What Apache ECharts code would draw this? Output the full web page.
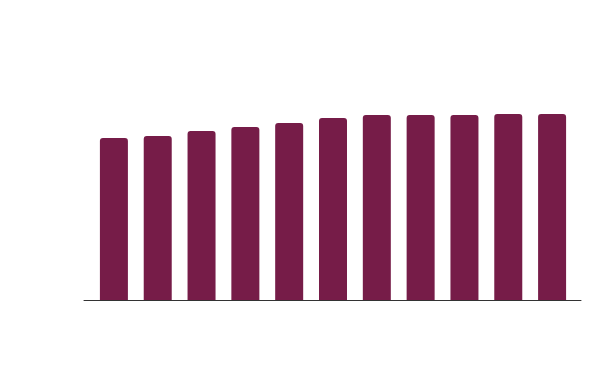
<!DOCTYPE html>
<html>
<head>
<meta charset="utf-8">
<script src="https://cdn.jsdelivr.net/npm/echarts@6/dist/echarts.min.js"></script>
<style>html,body{margin:0;padding:0;background:#fff}#c{width:600px;height:371px}</style>
</head>
<body>
<div id="c"></div>
<script>
var categories = ['1','2','3','4','5','6','7','8','9','10','11'];
var values = [64.8, 65.6, 67.6, 69.2, 70.8, 72.8, 74.0, 74.0, 74.0, 74.4, 74.4];

var chart = echarts.init(document.getElementById('c'));
chart.setOption({
  animation: false,
  backgroundColor: '#ffffff',
  grid: [
    {left: 92, right: 26, top: 50, bottom: 71},
    {left: 84, right: 19, top: 50, bottom: 71}
  ],
  xAxis: [
    {type: 'category', gridIndex: 0, data: categories, boundaryGap: true,
     axisLine: {show: false}, axisTick: {show: false}, axisLabel: {show: false}},
    {type: 'value', gridIndex: 1, min: 0, max: 1,
     axisLine: {show: true, onZero: false, lineStyle: {color: '#333333', width: 1}},
     axisTick: {show: false}, axisLabel: {show: false}, splitLine: {show: false}}
  ],
  yAxis: [
    {type: 'value', gridIndex: 0, min: 0, max: 100,
     axisLine: {show: false}, axisTick: {show: false}, axisLabel: {show: false}, splitLine: {show: false}},
    {type: 'value', gridIndex: 1, min: 0, max: 100, show: false}
  ],
  series: [{
    type: 'bar',
    xAxisIndex: 0, yAxisIndex: 0,
    data: values,
    barWidth: 28,
    itemStyle: {color: '#761c48', borderRadius: [3, 3, 0, 0]}
  }]
});
</script>
</body>
</html>
